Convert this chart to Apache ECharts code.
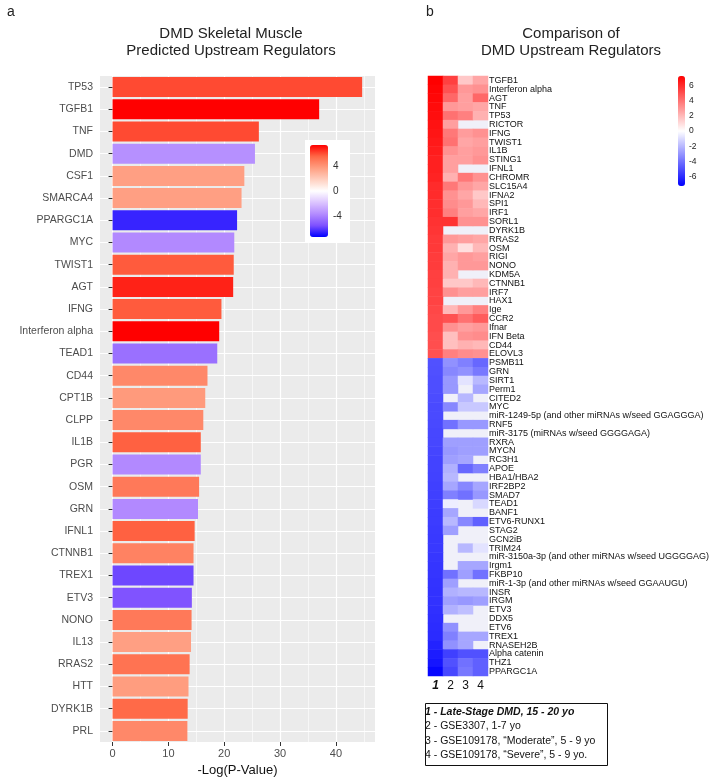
<!DOCTYPE html>
<html>
<head>
<meta charset="utf-8">
<script src="https://cdn.jsdelivr.net/npm/echarts@6.0.0/dist/echarts.min.js"></script>
<style>
  html, body { margin: 0; padding: 0; background: #fff; }
  #chart { width: 709px; height: 779px; }
</style>
</head>
<body>
<div id="chart"></div>
<script>
// panel a: predicted upstream regulators
var barGenes = ['TP53', 'TGFB1', 'TNF', 'DMD', 'CSF1', 'SMARCA4', 'PPARGC1A', 'MYC', 'TWIST1', 'AGT',
    'IFNG', 'Interferon alpha', 'TEAD1', 'CD44', 'CPT1B', 'CLPP', 'IL1B', 'PGR', 'OSM', 'GRN',
    'IFNL1', 'CTNNB1', 'TREX1', 'ETV3', 'NONO', 'IL13', 'RRAS2', 'HTT', 'DYRK1B', 'PRL'];
var barLogP = [44.7, 37.0, 26.2, 25.5, 23.6, 23.1, 22.3, 21.8, 21.7, 21.6,
    19.5, 19.1, 18.75, 17.0, 16.6, 16.25, 15.8, 15.8, 15.5, 15.3,
    14.7, 14.5, 14.5, 14.2, 14.15, 14.05, 13.8, 13.6, 13.45, 13.4];
var barZ = [6.0, 7.3, 6.0, -3.5, 3.6, 3.6, -6.5, -3.7, 5.7, 6.7,
    5.7, 7.3, -4.5, 4.4, 3.8, 4.4, 5.6, -3.7, 4.9, -3.7,
    5.6, 4.6, -5.7, -5.4, 4.9, 3.6, 5.1, 3.7, 5.4, 4.4];
var barTicks = [0, 10, 20, 30, 40];
var barMinorTicks = [5, 15, 25, 35, 45];
var barLegendTicks = [-4, 0, 4];

// panel b: comparison heatmap (null = no value)
var heatGenes = ['TGFB1', 'Interferon alpha', 'AGT', 'TNF', 'TP53', 'RICTOR', 'IFNG', 'TWIST1', 'IL1B', 'STING1',
    'IFNL1', 'CHROMR', 'SLC15A4', 'IFNA2', 'SPI1', 'IRF1', 'SORL1', 'DYRK1B', 'RRAS2', 'OSM',
    'RIGI', 'NONO', 'KDM5A', 'CTNNB1', 'IRF7', 'HAX1', 'Ige', 'CCR2', 'Ifnar', 'IFN Beta',
    'CD44', 'ELOVL3',
    'PSMB11', 'GRN', 'SIRT1', 'Perm1', 'CITED2', 'MYC', 'miR-1249-5p (and other miRNAs w/seed GGAGGGA)', 'RNF5',
    'miR-3175 (miRNAs w/seed GGGGAGA)', 'RXRA', 'MYCN', 'RC3H1', 'APOE', 'HBA1/HBA2', 'IRF2BP2', 'SMAD7', 'TEAD1', 'BANF1',
    'ETV6-RUNX1', 'STAG2', 'GCN2iB', 'TRIM24', 'miR-3150a-3p (and other miRNAs w/seed UGGGGAG)', 'Irgm1', 'FKBP10',
    'miR-1-3p (and other miRNAs w/seed GGAAUGU)', 'INSR', 'IRGM',
    'ETV3', 'DDX5', 'ETV6', 'TREX1', 'RNASEH2B', 'Alpha catenin', 'THZ1', 'PPARGC1A'];
var heatCol1 = [7.2, 7.1, 7.0, 6.9, 6.8, 6.7, 6.6, 6.5, 6.4, 6.3, 6.3, 6.2, 6.0, 6.0, 5.9, 5.9, 5.8, 5.7, 5.6, 5.6,
    5.5, 5.5, 5.4, 5.4, 5.3, 5.3, 5.2, 5.1, 5.1, 5.0, 5.0, 4.9,
    -4.9, -4.95, -5.0, -5.0, -5.05, -5.1, -5.1, -5.15, -5.2, -5.2, -5.25, -5.3, -5.3, -5.35, -5.4, -5.4, -5.45, -5.5,
    -5.5, -5.55, -5.6, -5.6, -5.65, -5.7, -5.7, -5.75, -5.8, -5.8, -5.85, -5.9, -5.95, -6.0, -6.2, -6.4, -6.6, -7.0];
var heatCol2 = [5.4, 4.9, 4.3, 2.9, 4.0, 2.7, 3.8, 4.0, 3.1, 2.7, 2.7, 2.2, 3.8, 3.1, 3.25, 3.6, 5.8, null, 2.9, 2.2,
    2.5, 2.2, 2.2, 1.55, 3.1, null, 2.0, 4.9, 3.1, 1.8, 1.8, 3.6,
    -3.1, -3.4, -2.9, -2.9, null, -3.4, null, -4.0, null, -2.7, -2.9, -2.7, -2.2, -2.0, -2.5, -3.6, -0.5, -2.5,
    -2.0, -2.7, null, null, null, null, -4.0, -2.7, -2.2, -2.7, -2.2, null, -3.1, -3.6, -3.1, -5.4, -4.9, -5.2];
var heatCol3 = [1.55, 2.9, 2.7, 2.7, 3.6, null, 2.8, 2.5, 2.7, 2.7, null, 3.8, 2.9, 2.5, 2.9, 2.7, 3.1, null, 2.7, 0.9,
    2.9, 2.9, null, 1.55, 2.7, null, 2.9, 4.0, 2.7, 3.1, 2.2, 3.25,
    -3.6, -3.1, -0.8, null, -2.0, -1.55, null, -2.9, null, -2.7, -2.7, -2.5, -4.3, null, -3.4, -4.0, null, null,
    -3.4, null, null, -2.0, null, -2.5, -2.7, null, -2.0, -2.9, -1.8, null, null, -2.5, -2.5, -4.9, -4.0, -3.8];
var heatCol4 = [2.5, 3.1, 4.3, 2.5, 2.2, null, 3.1, 2.7, 2.9, 3.1, null, 3.1, 2.5, 1.55, 2.0, 2.5, 3.1, null, 2.5, 2.0,
    2.7, 2.9, null, 2.0, 2.7, null, 3.6, 4.6, 2.9, 3.25, 2.0, 3.1,
    -4.3, -3.8, -2.0, -2.5, null, -1.55, null, -2.9, null, -2.7, -2.7, null, -3.6, null, -2.5, -2.9, -1.1, null,
    -4.5, null, null, -0.8, null, -2.5, -4.0, null, -2.0, -2.7, null, null, null, -2.5, null, -4.9, -4.5, -4.5];
var heatColumns = ['1', '2', '3', '4'];
var heatLegendTicks = [-6, -4, -2, 0, 2, 4, 6];

var fontFam = 'Liberation Sans, Arial, Helvetica, sans-serif';

var myChart = echarts.init(document.getElementById('chart'), null, { renderer: 'canvas' });

var heatCols = [heatCol1, heatCol2, heatCol3, heatCol4];
var heatData = [];
for (let i = 0; i < heatGenes.length; i++) {
    for (let j = 0; j < heatCols.length; j++) {
        var v = heatCols[j][i];
        heatData.push([j, i, v === null ? '-' : v]);
    }
}
var barData = [];
for (let i = 0; i < barGenes.length; i++) {
    barData.push([barLogP[i], barGenes[i], barZ[i]]);
}
var rowLines = [];
for (let i = 0; i < barGenes.length; i++) {
    rowLines.push(i + 0.5);
}

option = {
    animation: false,
    textStyle: { fontFamily: fontFam },
    title: [
        { text: 'a', left: 2, top: 0, textStyle: { fontSize: 14, fontWeight: 'normal', color: '#222' } },
        { text: 'b', left: 421, top: 0, textStyle: { fontSize: 14, fontWeight: 'normal', color: '#222' } },
        {
            text: 'DMD Skeletal Muscle\nPredicted Upstream Regulators',
            left: 226, top: 20, textAlign: 'center',
            textStyle: { fontSize: 15, fontWeight: 'normal', color: '#222', lineHeight: 17 }
        },
        {
            text: 'Comparison of\nDMD Upstream Regulators',
            left: 566, top: 20, textAlign: 'center',
            textStyle: { fontSize: 15, fontWeight: 'normal', color: '#222', lineHeight: 17 }
        }
    ],
    grid: [
        { left: 100, top: 76, width: 275, height: 666, show: true, backgroundColor: '#ebebeb', borderWidth: 0, outerBoundsMode: 'none' },
        { left: 310, top: 145, width: 18, height: 92, outerBoundsMode: 'none' },
        { left: 428, top: 76, width: 60, height: 600, show: true, backgroundColor: '#f0f0f9', borderWidth: 0, outerBoundsMode: 'none' },
        { left: 678, top: 76, width: 7, height: 110, outerBoundsMode: 'none' }
    ],
    xAxis: [
        {
            type: 'value', gridIndex: 0, min: -2.25, max: 47,
            name: '-Log(P-Value)', nameLocation: 'middle', nameGap: 20,
            nameTextStyle: { fontSize: 13, color: '#111' },
            axisLine: { show: false },
            axisTick: { show: true, length: 4, lineStyle: { color: '#333' }, customValues: barTicks },
            axisLabel: { fontSize: 11, color: '#4d4d4d', margin: 6, customValues: barTicks },
            splitLine: { show: true, lineStyle: { color: '#ffffff', width: 1.2 } }
        },
        {
            type: 'value', gridIndex: 0, min: -2.25, max: 47, position: 'top',
            axisLine: { show: false },
            axisTick: { show: false, customValues: barMinorTicks },
            axisLabel: { show: false },
            splitLine: { show: true, lineStyle: { color: '#ffffff', width: 0.6 } }
        },
        { type: 'value', gridIndex: 1, show: false, min: 0, max: 1 },
        {
            type: 'category', gridIndex: 2, data: heatColumns, position: 'bottom',
            axisLine: { show: false }, axisTick: { show: false },
            axisLabel: {
                fontSize: 12, color: '#111', margin: 4, interval: 0,
                formatter: function (val) {
                    return val === '1' ? '{b|' + val + '}' : val;
                },
                rich: { b: { fontWeight: 'bold', fontStyle: 'italic', fontSize: 12, color: '#111' } }
            },
            splitLine: { show: false }
        },
        { type: 'value', gridIndex: 3, show: false, min: 0, max: 1 }
    ],
    yAxis: [
        {
            type: 'category', gridIndex: 0, data: barGenes, inverse: true,
            axisLine: { show: false },
            axisTick: { show: true, length: 4, alignWithLabel: true, lineStyle: { color: '#333' } },
            axisLabel: { fontSize: 10.5, color: '#4d4d4d', margin: 7, interval: 0 },
            splitLine: { show: false }
        },
        {
            type: 'value', gridIndex: 0, min: 0, max: barGenes.length,
            axisLine: { show: false },
            axisTick: { show: false, customValues: rowLines },
            axisLabel: { show: false },
            splitLine: { show: true, lineStyle: { color: '#ffffff', width: 1.2 } }
        },
        {
            type: 'value', gridIndex: 1, min: -7.3, max: 7.3, position: 'right', z: 10,
            axisLine: { show: false },
            axisTick: { show: true, inside: true, length: 3, lineStyle: { color: '#ffffff' }, customValues: barLegendTicks },
            axisLabel: { fontSize: 10, color: '#333', margin: 5, customValues: barLegendTicks },
            splitLine: { show: false }
        },
        {
            type: 'category', gridIndex: 2, data: heatGenes, inverse: true, position: 'right',
            axisLine: { show: false }, axisTick: { show: false },
            axisLabel: { fontSize: 9, color: '#111', margin: 1, interval: 0 },
            splitLine: { show: false }
        },
        {
            type: 'value', gridIndex: 3, min: -7.2, max: 7.2, position: 'right',
            axisLine: { show: false }, axisTick: { show: false, customValues: heatLegendTicks },
            axisLabel: { fontSize: 8.5, color: '#222', margin: 4, customValues: heatLegendTicks },
            splitLine: { show: false }
        }
    ],
    visualMap: [
        {
            type: 'continuous', seriesIndex: 0, dimension: 2,
            min: -7.3, max: 7.3, calculable: false,
            left: 305, top: 140, itemWidth: 18, itemHeight: 92,
            padding: [5, 22, 5, 5], backgroundColor: '#ffffff',
            inRange: {
                color: ['#0000ff', '#7e51ff', '#b38bff', '#dcc4ff', '#ffffff',
                    '#ffcfbf', '#ff9e81', '#ff6846', '#ff0000']
            }
        },
        {
            type: 'continuous', seriesIndex: 1, dimension: 2,
            min: -7.2, max: 7.2, calculable: false,
            left: 678, top: 76, itemWidth: 7, itemHeight: 110, padding: 0,
            inRange: { color: ['#0000ff', '#ffffff', '#ff0000'] }
        }
    ],
    series: [
        {
            type: 'bar', xAxisIndex: 0, yAxisIndex: 0,
            data: barData, encode: { x: 0, y: 1 },
            barWidth: '90%'
        },
        {
            type: 'heatmap', xAxisIndex: 3, yAxisIndex: 3,
            data: heatData
        }
    ],
    graphic: [
        {
            type: 'rect', left: 423, top: 701,
            shape: { width: 182, height: 62 },
            style: { fill: 'none', stroke: '#111', lineWidth: 1 }
        },
        {
            type: 'text', left: 425, top: 705,
            style: {
                text: '{b|1 - Late-Stage DMD, 15 - 20 yo}\n2 - GSE3307, 1-7 yo\n3 - GSE109178, \u201cModerate\u201d, 5 - 9 yo\n4 - GSE109178, \u201cSevere\u201d, 5 - 9 yo.',
                fontSize: 10.5, fontFamily: fontFam, fill: '#111', lineHeight: 14.3,
                rich: { b: { fontWeight: 'bold', fontStyle: 'italic', fontSize: 10.5, lineHeight: 14.3, fill: '#111' } }
            }
        }
    ]
};

myChart.setOption(option);
window.addEventListener('resize', function () {
    myChart.resize();
});
</script>
</body>
</html>
